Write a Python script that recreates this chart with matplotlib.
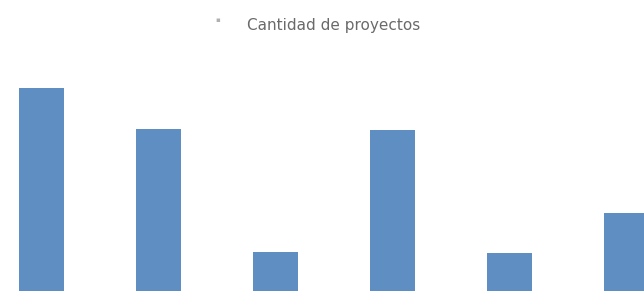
import matplotlib.pyplot as plt
import numpy as np

# values (axis has no labels, bottom is cut off)
categories = ['A', 'B', 'C', 'D', 'E', 'F']
proyectos = [26, 20.8, 5, 20.7, 4.9, 10]
title = 'Cantidad de proyectos'

fig = plt.figure(figsize=(6.44, 2.91), dpi=100)
ax = fig.add_axes([0, 0, 1, 1])

x = np.arange(len(categories))
ax.bar(x, proyectos, width=0.39, color='#5f8ec2', edgecolor='none')

ax.set_xlim(-0.355, 5.15)
ax.set_ylim(0, 37.3)
ax.axis('off')

# legend-like title at the top
fig.text(0.5185, 0.912, title, ha='center', va='center', fontsize=11,
         color='#6a6a6a')
fig.text(0.338, 0.93, '\u25aa', ha='center', va='center', fontsize=5,
         color='#b0b0b0')

fig.savefig('out.png', dpi=100, facecolor='white')
